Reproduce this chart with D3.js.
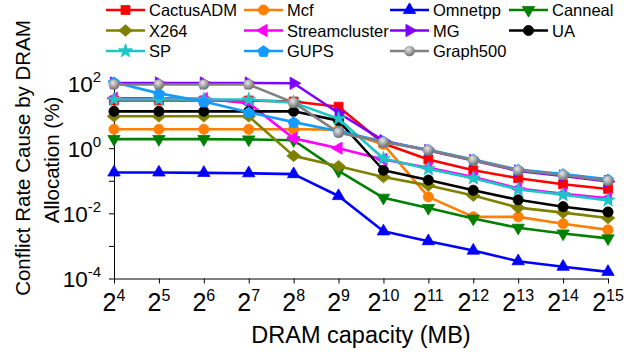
<!DOCTYPE html>
<html>
<head>
<meta charset="utf-8">
<script src="https://cdn.jsdelivr.net/npm/d3@7"></script>
<style>
  body { margin: 0; background: #fff; }
  text { font-family: "Liberation Sans", Arial, sans-serif; fill: #000; }
</style>
</head>
<body>
<div id="chart"></div>
<script>
// DRAM capacity in MB, as powers of two
const exps = [4, 5, 6, 7, 8, 9, 10, 11, 12, 13, 14, 15]

const names = ["CactusADM", "Mcf", "Omnetpp", "Canneal", "X264", "Streamcluster",
               "MG", "UA", "SP", "GUPS", "Graph500"]
const colors = ["#ff0000", "#ff8000", "#0000ff", "#008000", "#808000", "#ff00ff",
                "#8000ff", "#000000", "#1cc6c6", "#139bff", "#808080"]

const cactusADM = [29, 29, 29, 29, 27, 18.7, 1.4, 0.45, 0.21, 0.12, 0.078, 0.056]
const mcf = [3.8, 3.8, 3.8, 3.8, 3.8, 3.7, 1.3, 0.032, 0.0078, 0.0078, 0.0048, 0.0031]
const omnetpp = [0.18, 0.18, 0.175, 0.17, 0.16, 0.034, 0.0028, 0.0014, 0.00072, 0.00034, 0.00023, 0.00016]
const canneal = [1.9, 1.9, 1.9, 1.85, 1.75, 0.2, 0.03, 0.0145, 0.0069, 0.0036, 0.0024, 0.0017]
const x264 = [9.5, 9.5, 9.5, 9.5, 0.58, 0.28, 0.13, 0.072, 0.035, 0.015, 0.0105, 0.0072]
const streamcluster = [34, 34, 33, 24, 2.0, 1.0, 0.45, 0.25, 0.13, 0.058, 0.04, 0.029]
const mg = [100, 100, 100, 100, 98, 12, 1.7, 0.85, 0.42, 0.2, 0.14, 0.095]
const ua = [13.5, 13.5, 13.5, 13.5, 13.5, 7, 0.21, 0.105, 0.051, 0.026, 0.016, 0.011]
const sp = [31, 31, 31, 31, 25, 8, 0.48, 0.23, 0.12, 0.054, 0.037, 0.025]
const gups = [105, 48, 27, 12.6, 6.3, 3.3, 1.6, 0.9, 0.45, 0.22, 0.16, 0.11]
const graph500 = [90, 90, 90, 90, 25, 3.0, 1.55, 0.87, 0.43, 0.21, 0.15, 0.1]

const series = [cactusADM, mcf, omnetpp, canneal, x264, streamcluster, mg, ua, sp, gups, graph500]

const yMajor = [-4, -2, 0, 2]
const yMinor = [-3, -1, 1]

const w = 624
const h = 352

var svg = d3.select("#chart").append("svg")
    .attr("width", w).attr("height", h)

var defs = svg.append("defs")
var grad = defs.append("radialGradient").attr("id", "ball")
    .attr("cx", "40%").attr("cy", "35%").attr("r", "65%")
grad.append("stop").attr("offset", "0%").attr("stop-color", "#e6e6e6")
grad.append("stop").attr("offset", "100%").attr("stop-color", "#6e6e6e")

var x = d3.scaleLinear().domain([4, 15]).range([114, 608])
var y = d3.scaleLog().domain([1e-4, 1e2]).range([278.5, 83])

// marker shapes, one per series
var tri = d3.symbol().type(d3.symbolTriangle).size(66)()
var shapes = [
    { d: d3.symbol().type(d3.symbolSquare).size(80)(), rot: 0 },
    { d: d3.symbol().type(d3.symbolCircle).size(82)(), rot: 0 },
    { d: tri, rot: 0 },
    { d: tri, rot: 180 },
    { d: "M-6.8,0L0,-5.8L6.8,0L0,5.8Z", rot: 0 },
    { d: tri, rot: -90 },
    { d: tri, rot: 90 },
    { d: d3.symbol().type(d3.symbolCircle).size(82)(), rot: 0 },
    { d: d3.symbol().type(d3.symbolStar).size(60)(), rot: 0 },
    { d: d3.range(5).map(function(i) {
            var a = -Math.PI / 2 + i * 2 * Math.PI / 5
            return (i ? "L" : "M") + (6 * Math.cos(a)).toFixed(2) + "," + (6 * Math.sin(a) + 0.6).toFixed(2)
        }).join("") + "Z", rot: 0 },
    { d: d3.symbol().type(d3.symbolCircle).size(90)(), rot: 0 }
]

function markerFill(i) { return i == 10 ? "url(#ball)" : colors[i] }

// axes
var xAxis = d3.axisBottom(x).tickValues(exps).tickSize(5).tickSizeOuter(0).tickFormat("")
var gx = svg.append("g").attr("transform", "translate(0,278.5)").call(xAxis)
gx.selectAll("path, line").attr("stroke", "#000").attr("stroke-width", 1)

var yAxis = d3.axisLeft(y).tickValues(yMajor.concat(yMinor).map(function(e) { return Math.pow(10, e) }))
    .tickSize(5).tickSizeOuter(0).tickFormat("")
var gy = svg.append("g").attr("transform", "translate(114,0)").call(yAxis)
gy.selectAll("path, line").attr("stroke", "#000").attr("stroke-width", 1)

// x tick labels 2^n
var xl = svg.append("g").selectAll("text").data(exps).enter().append("text")
    .attr("x", function(d) { return x(d) })
    .attr("y", 311)
    .attr("text-anchor", "middle")
    .style("font-size", "25px")
xl.append("tspan").text("2")
xl.append("tspan").attr("dy", -10).style("font-size", "16px").text(function(d) { return d })

// y tick labels 10^n
var yl = svg.append("g").selectAll("text").data(yMajor).enter().append("text")
    .attr("x", 101)
    .attr("y", function(d) { return y(Math.pow(10, d)) + 8.5 })
    .attr("text-anchor", "end")
    .style("font-size", "22.5px")
yl.append("tspan").text("10")
yl.append("tspan").attr("dy", -10).style("font-size", "15px").text(function(d) { return d < 0 ? "-" + (-d) : d })

// axis titles
svg.append("text").attr("x", 361).attr("y", 343)
    .attr("text-anchor", "middle").style("font-size", "23.5px")
    .text("DRAM capacity (MB)")
svg.append("text").attr("transform", "translate(30,158) rotate(-90)")
    .attr("text-anchor", "middle").style("font-size", "20.5px")
    .text("Conflict Rate Cause by DRAM")
svg.append("text").attr("transform", "translate(58.5,160) rotate(-90)")
    .attr("text-anchor", "middle").style("font-size", "20.5px")
    .text("Allocation (%)")

// lines and markers
var line = d3.line().x(function(d) { return x(d[0]) }).y(function(d) { return y(d[1]) })

series.forEach(function(vals, i) {
    var pts = exps.map(function(e, j) { return [e, vals[j]] })
    var g = svg.append("g")
    g.append("path").datum(pts)
        .attr("d", line)
        .attr("fill", "none")
        .attr("stroke", colors[i])
        .attr("stroke-width", 2.6)
        .attr("stroke-linejoin", "round")
    g.selectAll(".m").data(pts).enter().append("path")
        .attr("class", "m")
        .attr("d", shapes[i].d)
        .attr("transform", function(d) {
            return "translate(" + x(d[0]) + "," + y(d[1]) + ") rotate(" + shapes[i].rot + ")"
        })
        .attr("fill", markerFill(i))
        .attr("stroke", i == 10 ? "none" : colors[i])
        .attr("stroke-width", 0.8)
})

// legend, 4 columns x 3 rows
var colX = [106, 244, 390, 509]
var rowY = [10, 30.5, 51]
var lg = svg.append("g").selectAll("g").data(names).enter().append("g")
    .attr("transform", function(d, i) { return "translate(" + colX[i % 4] + "," + rowY[Math.floor(i / 4)] + ")" })
lg.append("line").attr("x1", 0).attr("x2", 39).attr("y1", 0).attr("y2", 0)
    .attr("stroke", function(d, i) { return colors[i] }).attr("stroke-width", 2.6)
lg.append("path")
    .attr("d", function(d, i) { return shapes[i].d })
    .attr("transform", function(d, i) { return "translate(19.5,0) rotate(" + shapes[i].rot + ")" })
    .attr("fill", function(d, i) { return markerFill(i) })
    .attr("stroke", function(d, i) { return i == 10 ? "none" : colors[i] })
    .attr("stroke-width", 0.8)
lg.append("text").attr("x", 43).attr("y", 6)
    .style("font-size", "16.5px")
    .text(function(d) { return d })
</script>
</body>
</html>
